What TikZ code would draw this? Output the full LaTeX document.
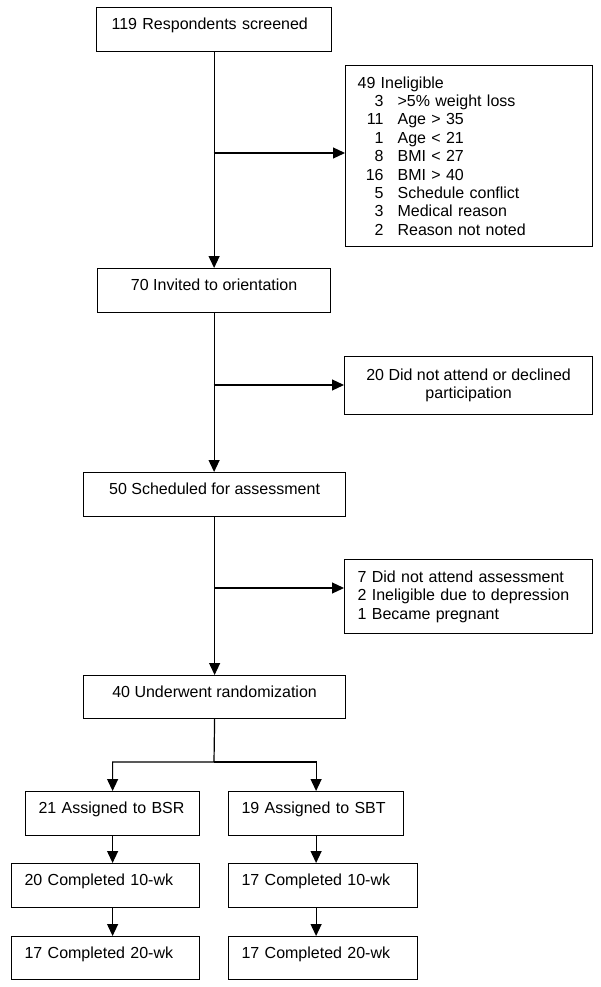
\documentclass[tikz,border=0pt]{standalone}
\usepackage{fontspec}
\setmainfont{Liberation Sans}
\usepackage{tikz}
\usetikzlibrary{arrows.meta}
\newcommand{\why}[2]{\makebox[26pt][r]{#1}\hspace{14pt}#2}

\begin{document}
\begin{tikzpicture}[x=1pt, y=-1pt,
box/.style = {draw, rectangle, line width=1.2pt, inner ysep=0pt, text height=22pt, text depth=22pt, anchor=north west},
lbox/.style = {box, inner xsep=13pt, text width=#1, align=left},
cbox/.style = {box, minimum width=#1},
tbox/.style = {draw, rectangle, line width=1.2pt, inner ysep=11pt, anchor=north west},
font=\fontsize{16}{18.4}\selectfont,
line width=1.2pt,
>={Triangle[length=12pt,width=11pt]}
]

    \useasboundingbox (0,0) rectangle (600,987);

    \node [lbox=205pt, inner xsep=15pt] (screen) at (96,7) {119 Respondents screened};
    \node [cbox=233pt] (invite) at (97,268) {70 Invited to orientation};
    \node [cbox=262pt] (sched) at (83,472) {50 Scheduled for assessment};
    \node [cbox=262pt, text depth=21pt] (rand) at (83,675) {40 Underwent randomization};

    \node [tbox, text width=223pt, inner xsep=12pt, minimum height=180pt, align=left] (inel) at (345,65) {49 Ineligible\\
        \why{3}{>5\% weight loss}\\
        \why{11}{Age > 35}\\
        \why{1}{Age < 21}\\
        \why{8}{BMI < 27}\\
        \why{16}{BMI > 40}\\
        \why{5}{Schedule conflict}\\
        \why{3}{Medical reason}\\
        \why{2}{Reason not noted}};
    \node [tbox, minimum width=248pt, minimum height=58pt, align=center] (noattend) at (344,356) {20 Did not attend or declined\\participation};
    \node [tbox, text width=222pt, inner xsep=13pt, minimum height=72pt, align=left] (noassess) at (344,559) {7 Did not attend assessment\\2 Ineligible due to depression\\1 Became pregnant};

    \node [lbox=148pt] (bsr) at (25,791) {21 Assigned to BSR};
    \node [lbox=149pt] (sbt) at (228,791) {19 Assigned to SBT};
    \node [lbox=162pt] (bsr10) at (11,863) {20 Completed 10-wk};
    \node [lbox=163pt] (sbt10) at (228,863) {17 Completed 10-wk};
    \node [lbox=162pt, text depth=21pt] (bsr20) at (11,936) {17 Completed 20-wk};
    \node [lbox=163pt, text depth=21pt] (sbt20) at (228,936) {17 Completed 20-wk};

    \coordinate (j1) at (213.5,153);
    \coordinate (j2) at (213.5,385);
    \coordinate (j3) at (214,588);
    \coordinate (split) at (214,762);

    \draw [->] (screen.south) -- (screen.south |- invite.north);
    \draw [->] (invite.south) -- (invite.south |- sched.north);
    \draw [->] (sched.south) -- (sched.south |- rand.north);

    \draw [->] (j1) -- (inel.west |- j1);
    \draw [->] (j2) -- (noattend.west |- j2);
    \draw [->] (j3) -- (noassess.west |- j3);

    \draw [->] (rand.south) -- (split) -| (bsr.north);
    \draw [->] (split) -| (sbt.north);

    \draw [->] (bsr.south) -- (bsr.south |- bsr10.north);
    \draw [->] (sbt.south) -- (sbt.south |- sbt10.north);
    \draw [->] (bsr.south |- bsr10.south) -- (bsr.south |- bsr20.north);
    \draw [->] (sbt.south |- sbt10.south) -- (sbt.south |- sbt20.north);

\end{tikzpicture}
\end{document}
